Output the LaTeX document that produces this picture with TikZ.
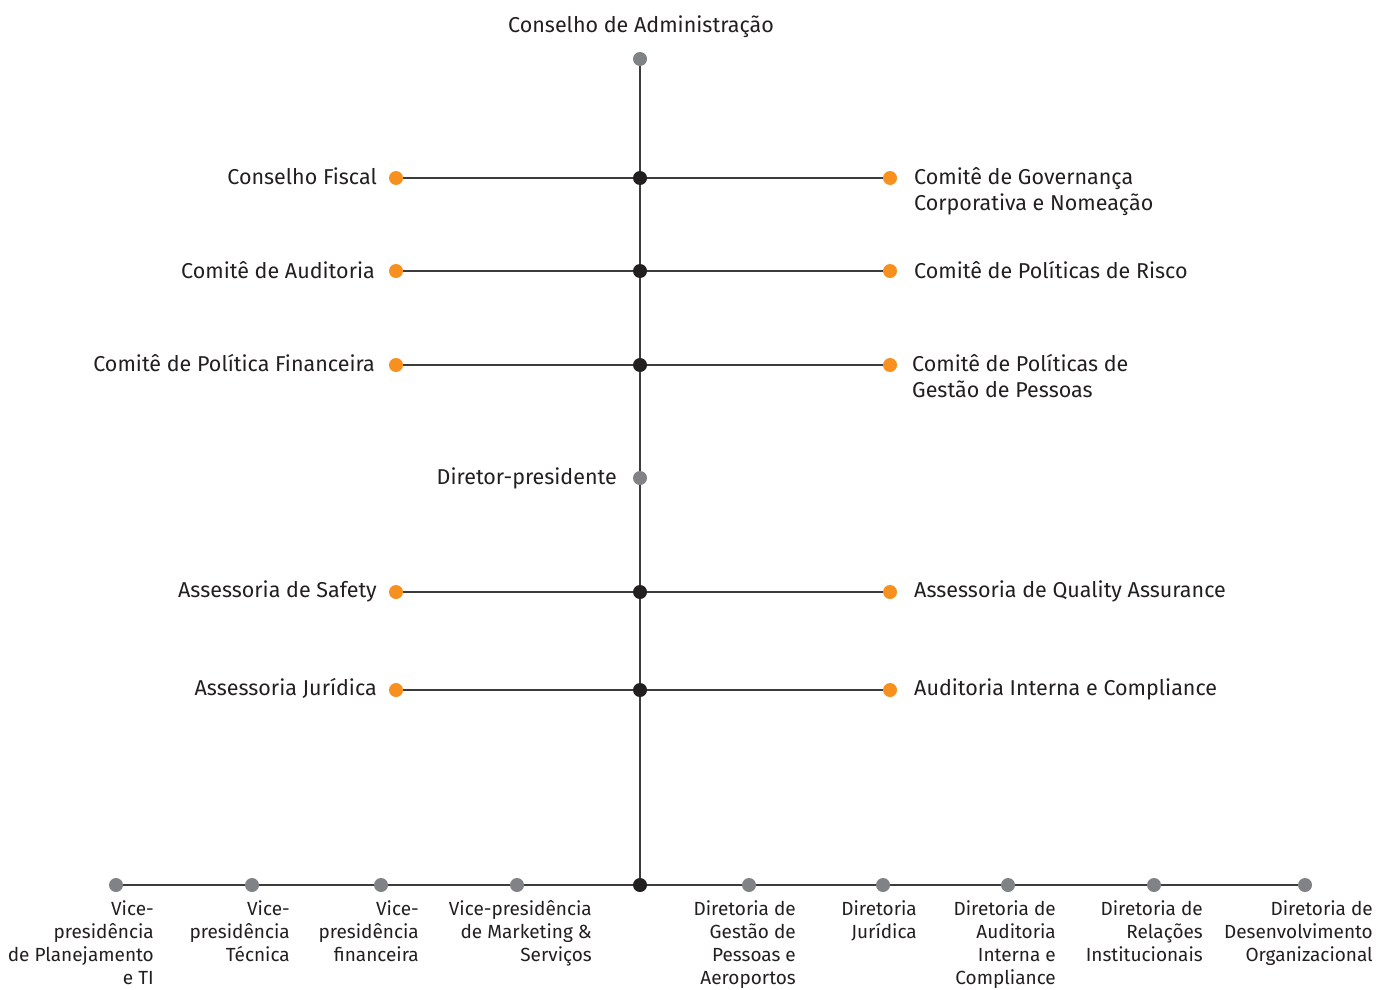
\documentclass[tikz,border=0pt]{standalone}
\usepackage{fontspec}
\setmainfont{Fira Sans}
\definecolor{orgc}{HTML}{F7901E}
\definecolor{blkc}{HTML}{231F20}
\definecolor{gryc}{HTML}{808285}
\definecolor{linec}{HTML}{3C3C3C}
\begin{document}
\begin{tikzpicture}[x=1pt,y=-1pt,
  dotbase/.style={circle,inner sep=0pt,minimum size=14pt},
  odot/.style={dotbase,fill=orgc},
  bdot/.style={dotbase,fill=blkc},
  gdot/.style={dotbase,fill=gryc},
  conn/.style={draw=linec,line width=1.2pt},
  lbl/.style={text=blkc,font=\fontsize{21.5}{26}\selectfont,inner sep=0pt},
  blbl/.style={text=blkc,font=\fontsize{19}{23.3}\selectfont,inner sep=0pt,align=right,anchor=north east}
]
\useasboundingbox (0,0) rectangle (1376,990);
% vertical axis nodes
\node[gdot] (top) at (640,59) {};
\node[bdot] (c1) at (640,178) {};
\node[bdot] (c2) at (640,271) {};
\node[bdot] (c3) at (640,365) {};
\node[gdot] (dp) at (640,478) {};
\node[bdot] (c4) at (640,592) {};
\node[bdot] (c5) at (640,690) {};
\node[bdot] (cb) at (640,885) {};
% side dots
\node[odot] (l1) at (396,178) {};
\node[odot] (l2) at (396,271) {};
\node[odot] (l3) at (396,365) {};
\node[odot] (l4) at (396,592) {};
\node[odot] (l5) at (396,690) {};
\node[odot] (r1) at (890,178) {};
\node[odot] (r2) at (890,271) {};
\node[odot] (r3) at (890,365) {};
\node[odot] (r4) at (890,592) {};
\node[odot] (r5) at (890,690) {};
% bottom dots
\node[gdot] (b1) at (116,885) {};
\node[gdot] (b2) at (252,885) {};
\node[gdot] (b3) at (381,885) {};
\node[gdot] (b4) at (517,885) {};
\node[gdot] (b5) at (749,885) {};
\node[gdot] (b6) at (883,885) {};
\node[gdot] (b7) at (1008,885) {};
\node[gdot] (b8) at (1154,885) {};
\node[gdot] (b9) at (1305,885) {};
% connectors
\draw[conn] (top) -- (c1) -- (c2) -- (c3) -- (dp) -- (c4) -- (c5) -- (cb);
\foreach \i in {1,...,5}{\draw[conn] (l\i) -- (c\i) -- (r\i);}
\draw[conn] (b1) -- (b2) -- (b3) -- (b4) -- (cb) -- (b5) -- (b6) -- (b7) -- (b8) -- (b9);
% labels
\node[lbl,anchor=base] (tTop) at (641,33) {Conselho de Administração};
\node[lbl,anchor=base east] (tl1) at (377,184) {Conselho Fiscal};
\node[lbl,anchor=base east] (tl2) at (375,278) {Comitê de Auditoria};
\node[lbl,anchor=base east] (tl3) at (375,371) {Comitê de Política Financeira};
\node[lbl,anchor=base east] (tdp) at (617,484) {Diretor-presidente};
\node[lbl,anchor=base east] (tl4) at (377,597) {Assessoria de Safety};
\node[lbl,anchor=base east] (tl5) at (377,695) {Assessoria Jurídica};
\node[lbl,anchor=base west,align=left] (tr1) at (914,210) {Comitê de Governança\\Corporativa e Nomeação};
\node[lbl,anchor=base west] (tr2) at (914,278) {Comitê de Políticas de Risco};
\node[lbl,anchor=base west,align=left] (tr3) at (912,397) {Comitê de Políticas de\\Gestão de Pessoas};
\node[lbl,anchor=base west] (tr4) at (914,597) {Assessoria de Quality Assurance};
\node[lbl,anchor=base west] (tr5) at (914,695) {Auditoria Interna e Compliance};
% bottom labels
\node[blbl] (tb1) at (154,900) {Vice-\\presidência\\de Planejamento\\e TI};
\node[blbl] (tb2) at (290,900) {Vice-\\presidência\\Técnica};
\node[blbl] (tb3) at (419,900) {Vice-\\presidência\\financeira};
\node[blbl] (tb4) at (592,900) {Vice-presidência\\de Marketing \&\\Serviços};
\node[blbl] (tb5) at (796,900) {Diretoria de\\Gestão de\\Pessoas e\\Aeroportos};
\node[blbl] (tb6) at (917,900) {Diretoria\\Jurídica};
\node[blbl] (tb7) at (1056,900) {Diretoria de\\Auditoria\\Interna e\\Compliance};
\node[blbl] (tb8) at (1203,900) {Diretoria de\\Relações\\Institucionais};
\node[blbl] (tb9) at (1373,900) {Diretoria de\\Desenvolvimento\\Organizacional};
\end{tikzpicture}
\end{document}
